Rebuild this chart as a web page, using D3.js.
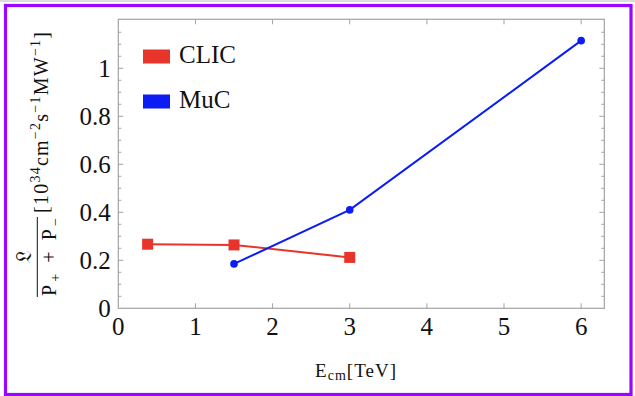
<!DOCTYPE html>
<html lang="en">
<head>
    <meta charset="UTF-8">
    <title>Luminosity per beam power</title>
    <script src="https://cdnjs.cloudflare.com/ajax/libs/d3/7.8.5/d3.min.js"></script>
    <style>
        body {
            margin: 0;
            padding: 0;
            background-color: #fff;
        }
    </style>
</head>
<body>
    <div id="chart"></div>

    <script>
        const width = 635;
        const height = 396;
        const serif = "Liberation Serif";

        // data
        const clicEnergy = [0.38, 1.5, 3];
        const clicLumi = [0.267, 0.264, 0.212];
        const mucEnergy = [1.5, 3, 6];
        const mucLumi = [0.185, 0.41, 1.115];

        const seriesNames = ["CLIC", "MuC"];
        const seriesColors = ["#e8352b", "#0b1df2"];

        const xTicks = [0, 1, 2, 3, 4, 5, 6];
        const yTicks = [0, 0.2, 0.4, 0.6, 0.8, 1];
        const yMinorTicks = [0.05, 0.1, 0.15, 0.25, 0.3, 0.35, 0.45, 0.5, 0.55, 0.65, 0.7, 0.75, 0.85, 0.9, 0.95, 1.05, 1.1, 1.15];

        const margin = { top: 19.3, right: 30.7, bottom: 87.7, left: 118.3 };

        const svg = d3.select("#chart")
            .append("svg")
            .attr("width", width)
            .attr("height", height)
            .attr("font-family", serif);

        // purple frame round the whole figure
        svg.append("rect")
            .attr("x", 0).attr("y", 0)
            .attr("width", width).attr("height", 2)
            .attr("fill", "#dcdcdc");
        svg.append("rect")
            .attr("x", 5.5).attr("y", 5.5)
            .attr("width", width - 9.5).attr("height", height - 7)
            .attr("fill", "none")
            .attr("stroke", "#9a06ff")
            .attr("stroke-width", 3.2);

        const x = d3.scaleLinear()
            .domain([0, 6.3])
            .range([margin.left, width - margin.right]);

        const y = d3.scaleLinear()
            .domain([0, 1.204])
            .range([height - margin.bottom, margin.top]);

        const x0 = x.range()[0], x1 = x.range()[1];
        const y0 = y.range()[0], y1 = y.range()[1];
        const axisColor = "#a3a3a3";

        // ticks, all four sides (Mathematica frame style)
        const ticks = svg.append("g")
            .attr("stroke", axisColor)
            .attr("stroke-width", 1);

        xTicks.slice(1).forEach(t => {
            ticks.append("line").attr("x1", x(t)).attr("x2", x(t)).attr("y1", y0).attr("y2", y0 - 5);
            ticks.append("line").attr("x1", x(t)).attr("x2", x(t)).attr("y1", y1).attr("y2", y1 + 5);
        });
        yTicks.slice(1).forEach(t => {
            ticks.append("line").attr("x1", x0).attr("x2", x0 + 5).attr("y1", y(t)).attr("y2", y(t));
            ticks.append("line").attr("x1", x1).attr("x2", x1 - 5).attr("y1", y(t)).attr("y2", y(t));
        });
        yMinorTicks.forEach(t => {
            ticks.append("line").attr("x1", x0).attr("x2", x0 + 3).attr("y1", y(t)).attr("y2", y(t));
            ticks.append("line").attr("x1", x1).attr("x2", x1 - 3).attr("y1", y(t)).attr("y2", y(t));
        });

        svg.append("rect")
            .attr("x", x0).attr("y", y1)
            .attr("width", x1 - x0).attr("height", y0 - y1)
            .attr("fill", "none")
            .attr("stroke", axisColor)
            .attr("stroke-width", 1.2);

        // tick labels
        const fmt = d3.format("~g");
        svg.append("g")
            .selectAll("text")
            .data(xTicks)
            .enter().append("text")
            .attr("x", d => x(d))
            .attr("y", y0 + 26.5)
            .attr("text-anchor", "middle")
            .attr("font-family", serif)
            .attr("font-size", 25)
            .attr("fill", "#111")
            .text(fmt);

        svg.append("g")
            .selectAll("text")
            .data(yTicks)
            .enter().append("text")
            .attr("x", x0 - 7.5)
            .attr("y", d => y(d) + 8.5)
            .attr("text-anchor", "end")
            .attr("font-family", serif)
            .attr("font-size", 25)
            .attr("fill", "#111")
            .text(fmt);

        // series
        const series = [
            { name: seriesNames[0], color: seriesColors[0], pts: clicEnergy.map((e, i) => [e, clicLumi[i]]), marker: "square" },
            { name: seriesNames[1], color: seriesColors[1], pts: mucEnergy.map((e, i) => [e, mucLumi[i]]), marker: "circle" }
        ];

        const line = d3.line()
            .x(d => x(d[0]))
            .y(d => y(d[1]));

        series.forEach(s => {
            svg.append("path")
                .datum(s.pts)
                .attr("d", line)
                .attr("fill", "none")
                .attr("stroke", s.color)
                .attr("stroke-width", 2);

            if (s.marker === "square") {
                svg.append("g").selectAll("rect")
                    .data(s.pts)
                    .enter().append("rect")
                    .attr("x", d => x(d[0]) - 5.5)
                    .attr("y", d => y(d[1]) - 5.5)
                    .attr("width", 11)
                    .attr("height", 11)
                    .attr("fill", s.color);
            } else {
                svg.append("g").selectAll("circle")
                    .data(s.pts)
                    .enter().append("circle")
                    .attr("cx", d => x(d[0]))
                    .attr("cy", d => y(d[1]))
                    .attr("r", 3.8)
                    .attr("fill", s.color);
            }
        });

        // legend
        const legend = svg.append("g")
            .selectAll("g")
            .data(series)
            .enter().append("g")
            .attr("transform", (d, i) => `translate(143,${49.5 + i * 45})`);

        legend.append("rect")
            .attr("width", 27)
            .attr("height", 14)
            .attr("fill", d => d.color);

        legend.append("text")
            .attr("x", 36)
            .attr("y", 13)
            .attr("font-family", serif)
            .attr("font-size", 25)
            .attr("fill", "#111")
            .text(d => d.name);

        // x axis title
        const xt = svg.append("text")
            .attr("x", 315)
            .attr("y", 376.5)
            .attr("textLength", 81)
            .attr("lengthAdjust", "spacing")
            .attr("font-family", serif)
            .attr("font-size", 19)
            .attr("fill", "#111");
        xt.append("tspan").text("E");
        xt.append("tspan").attr("dy", 3.5).attr("font-size", 14).text("cm");
        xt.append("tspan").attr("dy", -3.5).text("[TeV]");

        // y axis title: fraction plus units, rotated
        const yt = svg.append("g")
            .attr("transform", "translate(37.3,257) rotate(-90)");

        yt.append("line")
            .attr("x1", -40).attr("x2", 40)
            .attr("y1", 0).attr("y2", 0)
            .attr("stroke", "#111")
            .attr("stroke-width", 1);

        yt.append("text")
            .attr("x", 0)
            .attr("y", -6)
            .attr("text-anchor", "middle")
            .attr("font-family", serif)
            .attr("font-size", 21)
            .attr("fill", "#111")
            .text("\u{1D50F}");

        const den = yt.append("text")
            .attr("x", 0)
            .attr("y", 18.5)
            .attr("text-anchor", "middle")
            .attr("textLength", 78)
            .attr("lengthAdjust", "spacing")
            .attr("font-family", serif)
            .attr("font-size", 20)
            .attr("fill", "#111");
        den.append("tspan").text("P");
        den.append("tspan").attr("dy", 4).attr("font-size", 14).text("+");
        den.append("tspan").attr("dy", -4).text(" + P");
        den.append("tspan").attr("dy", 4).attr("font-size", 14).text("\u2212");

        const unit = yt.append("text")
            .attr("x", 44)
            .attr("y", 10.5)
            .attr("textLength", 181)
            .attr("lengthAdjust", "spacing")
            .attr("font-family", serif)
            .attr("font-size", 20)
            .attr("fill", "#111");
        const parts = [["[10", 0], ["34", 1], ["cm", 0], ["\u22122", 1], ["s", 0], ["\u22121", 1], ["MW", 0], ["\u22121", 1], ["]", 0]];
        let up = 0;
        parts.forEach(p => {
            const shift = p[1] ? -8 : 0;
            const ts = unit.append("tspan").attr("dy", shift - up).text(p[0]);
            if (p[1]) ts.attr("font-size", 14);
            up = shift;
        });
    </script>
</body>
</html>
